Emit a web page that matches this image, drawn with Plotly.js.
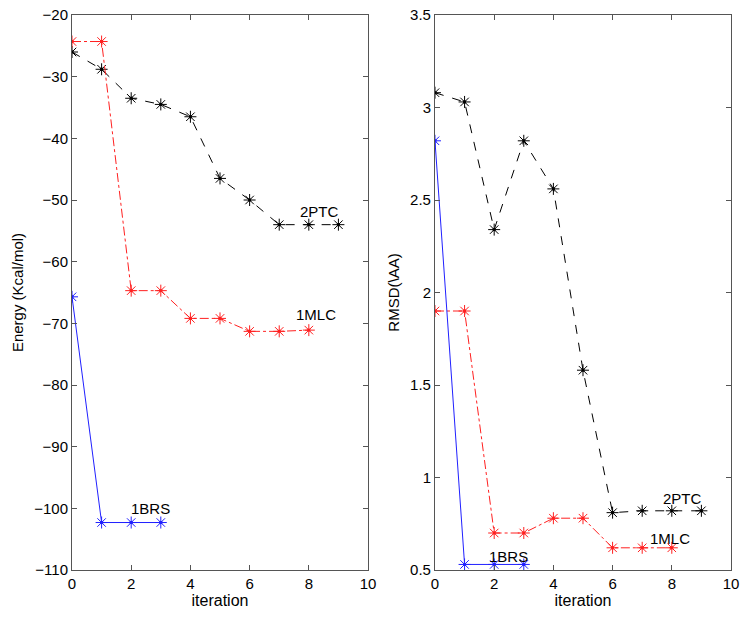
<!DOCTYPE html>
<html><head><meta charset="utf-8">
<script src="https://cdn.plot.ly/plotly-3.0.1.min.js"></script>
<style>html,body{margin:0;padding:0;background:#fff}</style>
</head><body><div id="c" style="width:750px;height:618px"></div>
<script>
const iterPTC = [0,1,2,3,4,5,6,7,8,9];
const iterMLC = [0,1,2,3,4,5,6,7,8];
const iterBRS = [0,1,2,3];
const energyPTC = [-26,-28.8,-33.5,-34.5,-36.5,-46.5,-50,-54,-54,-54];
const energyMLC = [-24.3,-24.3,-64.7,-64.7,-69.2,-69.2,-71.3,-71.3,-71.1];
const energyBRS = [-65.7,-102.3,-102.3,-102.3];
const rmsdPTC = [3.08,3.03,2.34,2.82,2.56,1.58,0.81,0.82,0.82,0.82];
const rmsdMLC = [1.90,1.90,0.70,0.70,0.78,0.78,0.62,0.62,0.62];
const rmsdBRS = [2.82,0.53,0.53,0.53];
const names = ['2PTC','1MLC','1BRS'];

const colors = ['#000000','#ff2020','#2020ff'];
const dashes = ['dash','dashdot','solid'];
function tr(x,y,i,ax){
  return {x:x,y:y,type:'scatter',mode:'lines+markers',xaxis:ax[0],yaxis:ax[1],
    line:{color:colors[i],width:1,dash:dashes[i]},
    marker:{symbol:'asterisk-open',size:10,color:colors[i],line:{color:colors[i],width:1}},
    showlegend:false,hoverinfo:'skip'};
}
function dots(x,y,i,ax){
  return {x:x,y:y,type:'scatter',mode:'markers',xaxis:ax[0],yaxis:ax[1],
    marker:{symbol:'square',size:3,color:colors[i]},showlegend:false,hoverinfo:'skip'};
}
const data = [
  tr(iterPTC,energyPTC,0,['x','y']),
  tr(iterMLC,energyMLC,1,['x','y']),
  tr(iterBRS,energyBRS,2,['x','y']),
  tr(iterPTC,rmsdPTC,0,['x2','y2']),
  tr(iterMLC,rmsdMLC,1,['x2','y2']),
  tr(iterBRS,rmsdBRS,2,['x2','y2']),
  dots(iterPTC,energyPTC,0,['x','y']),
  dots(iterMLC,energyMLC,1,['x','y']),
  dots(iterBRS,energyBRS,2,['x','y']),
  dots(iterPTC,rmsdPTC,0,['x2','y2']),
  dots(iterMLC,rmsdMLC,1,['x2','y2']),
  dots(iterBRS,rmsdBRS,2,['x2','y2'])
];
const axBase = {showgrid:false,zeroline:false,showline:true,mirror:'ticks',linecolor:'#555',linewidth:1,
  ticks:'inside',ticklen:5,tickcolor:'#555',tickfont:{size:15,color:'#000'}};
const font = {family:'Liberation Sans, Arial, sans-serif',size:15,color:'#000'};
function ann(x,y,t,xr,yr){return {x:x,y:y,xref:xr,yref:yr,text:t,showarrow:false,font:{size:15,color:'#000'},xanchor:'center',yanchor:'middle'};}
const layout = {
  width:750,height:618,margin:{l:72,r:19,t:15,b:48},
  paper_bgcolor:'#fff',plot_bgcolor:'#fff',font:font,
  xaxis:Object.assign({},axBase,{domain:[0,0.4492],range:[0,10],dtick:2,anchor:'y',
    title:{text:'iteration',font:{size:16},standoff:3}}),
  yaxis:Object.assign({},axBase,{range:[-110,-20],dtick:10,anchor:'x',
    title:{text:'Energy (Kcal/mol)',font:{size:15},standoff:6}}),
  xaxis2:Object.assign({},axBase,{domain:[0.5508,1],range:[0,10],dtick:2,anchor:'y2',
    title:{text:'iteration',font:{size:16},standoff:3}}),
  yaxis2:Object.assign({},axBase,{range:[0.5,3.5],dtick:0.5,anchor:'x2',
    title:{text:'RMSD(\\AA)',font:{size:15},standoff:6}}),
  annotations:[
    ann(8.35,-51.8,names[0],'x','y'),
    ann(8.25,-68.6,names[1],'x','y'),
    ann(2.65,-100,names[2],'x','y'),
    ann(8.35,0.885,names[0],'x2','y2'),
    ann(7.95,0.67,names[1],'x2','y2'),
    ann(2.5,0.575,names[2],'x2','y2')
  ]
};
Plotly.newPlot('c',data,layout,{displayModeBar:false,staticPlot:true});
</script></body></html>
